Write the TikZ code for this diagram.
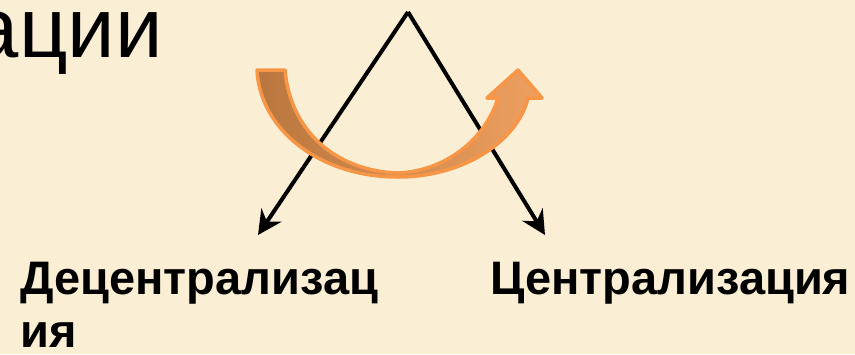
\documentclass[tikz,border=0pt]{standalone}
\usepackage{fontspec}
\setmainfont{Liberation Sans}
\usetikzlibrary{arrows.meta}

\definecolor{parchment}{RGB}{250,239,212}
\definecolor{arroworange}{RGB}{247,150,70}
\definecolor{arrowbrown}{RGB}{184,118,62}
\definecolor{arrowlilac}{RGB}{196,197,222}
\definecolor{arrowpeach}{RGB}{238,160,96}

\begin{document}
\begin{tikzpicture}[x=1pt,y=1pt,yscale=-1,
  branch/.style={line width=4pt,line join=miter,-{Stealth[length=24pt,width=24pt,inset=8pt]}},
  termtext/.style={inner sep=0pt,font=\fontsize{47}{53}\selectfont\bfseries}]
          %set diagram to 855 x 354
          \fill [parchment] (0,0) rectangle (855,354);
          \useasboundingbox (0,0) rectangle (855,354);
          \clip (0,0) rectangle (855,354);

          % Text Node
          \node (title) [anchor=base east,inner sep=0pt,font=\fontsize{85}{100}\selectfont] at (163,57) {ации};

          %Straight Lines
          \coordinate (apex) at (408,12);
          \coordinate (lefttip) at (258,235);
          \coordinate (righttip) at (545,235);
          \draw [branch] (apex) -- (lefttip);
          \draw [branch] (apex) -- (righttip);

          %Shape: Curved Arrow
          \draw [draw=arroworange,line width=3.5pt,line join=round,left color=arrowbrown,middle color=arrowlilac,right color=arrowpeach]
            (257,70) .. controls (260,130) and (320,177) .. (398,177)
            .. controls (465,177) and (518,140) .. (528,98)
            -- (542,98) -- (518,70) -- (487,98) -- (498,98)
            .. controls (485,140) and (445,171) .. (398,173)
            .. controls (335,171) and (290,130) .. (285,70) -- cycle;

          % Text Node (two lines, base is the last line)
          \node (decentr) [termtext,anchor=base west,align=left] at (20,347) {Децентрализац\\ия};
          % Text Node
          \node (centr) [termtext,anchor=base west] at (490,294) {Централизация};
\end{tikzpicture}
\end{document}
